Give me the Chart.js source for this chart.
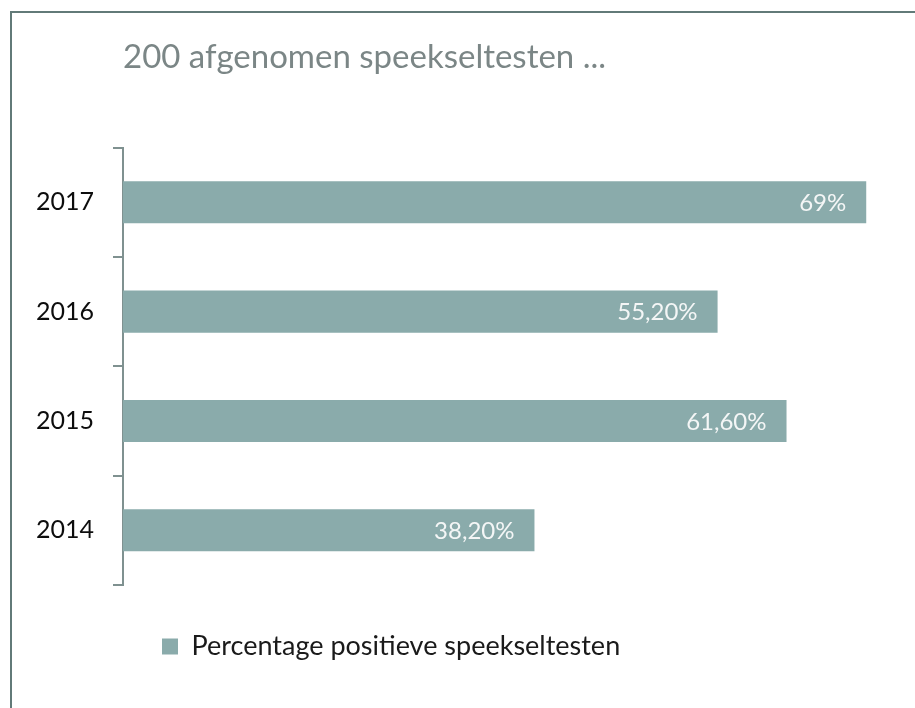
<!DOCTYPE html>
<html>
<head>
<meta charset="utf-8">
<script src="https://cdn.jsdelivr.net/npm/chart.js@4"></script>
<style>
  body { margin: 0; background: #fff; }
  #frame {
    position: absolute; left: 10px; top: 11px; width: 915px; height: 720px;
    border-top: 2px solid #627a78; border-left: 2px solid #627a78;
  }
  #wrap { position: absolute; left: 0; top: 0; width: 915px; height: 708px; }
</style>
</head>
<body>
<div id="frame"></div>
<div id="wrap"><canvas id="chart"></canvas></div>
<script>
// chart data, top to bottom as drawn
const years = ['2017', '2016', '2015', '2014'];
const positives = [69, 55.2, 61.6, 38.2];
const valueLabels = ['69%', '55,20%', '61,60%', '38,20%'];
const seriesName = 'Percentage positieve speekseltesten';
const titleText = '200 afgenomen speekseltesten ...';

// white value labels inside the bar ends
const barLabels = {
    id: 'barLabels',
    afterDatasetsDraw(chart) {
        const ctx = chart.ctx;
        const meta = chart.getDatasetMeta(0);
        ctx.save();
        ctx.font = '24px Lato';
        ctx.fillStyle = '#f4f6f6';
        ctx.textAlign = 'right';
        ctx.textBaseline = 'middle';
        meta.data.forEach((bar, i) => {
            ctx.fillText(valueLabels[i], bar.x - 20, bar.y + 1);
        });
        ctx.restore();
    }
};

new Chart(document.getElementById('chart'), {
    type: 'bar',
    data: {
        labels: years,
        datasets: [{
            label: seriesName,
            data: positives,
            backgroundColor: '#8aabab',
            borderWidth: 0,
            categoryPercentage: 1,
            barPercentage: 0.385
        }]
    },
    options: {
        indexAxis: 'y',
        responsive: true,
        maintainAspectRatio: false,
        animation: false,
        layout: { padding: { left: 17, right: 38, top: 0, bottom: 38 } },
        scales: {
            x: {
                display: true, min: 0, max: 70,
                ticks: { display: false },
                grid: { display: false },
                border: { display: false },
                afterFit(scale) { scale.height = 9; }  // gap above legend
            },
            y: {
                offset: true,
                border: { color: '#7f9190', width: 2 },
                grid: {
                    offset: true,
                    drawOnChartArea: false,
                    color: '#7f9190',
                    lineWidth: 2,
                    tickLength: 10
                },
                ticks: {
                    color: '#0d0d0d',
                    font: { family: 'Lato', size: 25 },
                    padding: 19
                }
            }
        },
        plugins: {
            title: {
                display: true,
                text: titleText,
                align: 'start',
                fullSize: false,
                color: '#7b8686',
                font: { family: 'Lato', size: 33, weight: 'normal' },
                padding: { top: 38, bottom: 70 }
            },
            legend: {
                position: 'bottom',
                align: 'start',
                fullSize: false,
                labels: {
                    color: '#1a1a1a',
                    font: { family: 'Lato', size: 27 },
                    boxWidth: 16,
                    boxHeight: 16,
                    padding: 39
                }
            },
            tooltip: { enabled: false }
        }
    },
    plugins: [barLabels]
});
</script>
</body>
</html>
